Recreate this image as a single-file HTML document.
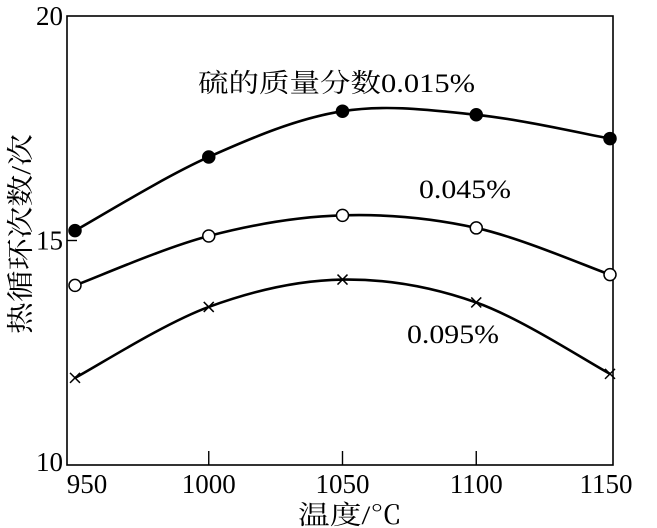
<!DOCTYPE html>
<html><head><meta charset="utf-8"><style>
html,body{margin:0;padding:0;background:#fff;}
svg{display:block;font-family:"Liberation Serif","Noto Serif CJK SC",serif;}
</style></head><body>
<svg id="chart" width="657" height="528" viewBox="0 0 657 528" xmlns="http://www.w3.org/2000/svg">
<rect x="67" y="16" width="546" height="449" fill="none" stroke="#000" stroke-width="1.6"/>
<g id="axes"></g>
<g id="series"></g>
<text x="198" y="92" font-size="26" textLength="277" lengthAdjust="spacingAndGlyphs">硫的质量分数0.015%</text>
<text x="419" y="198" font-size="26" textLength="92" lengthAdjust="spacingAndGlyphs">0.045%</text>
<text x="407" y="343" font-size="26" textLength="92" lengthAdjust="spacingAndGlyphs">0.095%</text>
<text x="350" y="524" font-size="26" text-anchor="middle" textLength="104" lengthAdjust="spacingAndGlyphs">温度/℃</text>
<text transform="translate(30,234) rotate(-90)" font-size="27" text-anchor="middle" textLength="200" lengthAdjust="spacingAndGlyphs">热循环次数/次</text>
</svg>
<script>
const temps=[950,1000,1050,1100,1150];
const s1=[15.22,16.86,17.88,17.8,17.27];
const s2=[14.0,15.1,15.56,15.28,14.24];
const s3=[11.94,13.52,14.13,13.62,12.03];
const xTicks=[950,1000,1050,1100,1150];
const yTicks=[10,15,20];
const NS="http://www.w3.org/2000/svg";
function X(v){return 75+(v-950)*2.675;}
function Y(v){return 465-(v-10)*44.9;}
function mk(tag,attrs,parent){const e=document.createElementNS(NS,tag);for(const k in attrs)e.setAttribute(k,attrs[k]);parent.appendChild(e);return e;}
const ax=document.getElementById('axes'),sg=document.getElementById('series');
xTicks.forEach(t=>{
  if(t>950&&t<1150){const l=mk('line',{x1:X(t),x2:X(t),y1:465,y2:451,stroke:'#000','stroke-width':1.4},ax);
  
  }
  const tx=mk('text',{x:X(t)+(t==950?12:t==1150?-4:0),y:493,'font-size':27,'text-anchor':'middle'},ax);
  tx.textContent=t;
  
  
});
yTicks.forEach(t=>{
  if(t==15){const l=mk('line',{x1:67,x2:77,y1:Y(t),y2:Y(t),stroke:'#000','stroke-width':1.4},ax);
  
  }
  const tx=mk('text',{x:63,y:Y(t)+(t==20?9:t==10?6:9),'font-size':27,'text-anchor':'end'},ax);
  tx.textContent=t;
  
  
});
function smooth(vals){
  const p=vals.map((v,i)=>[X(temps[i]),Y(v)]);
  let d='M'+p[0][0]+','+p[0][1];
  for(let i=0;i<p.length-1;i++){
    const p0=p[i-1]||p[i],p1=p[i],p2=p[i+1],p3=p[i+2]||p2;
    const c1=[p1[0]+(p2[0]-p0[0])/6,p1[1]+(p2[1]-p0[1])/6];
    const c2=[p2[0]-(p3[0]-p1[0])/6,p2[1]-(p3[1]-p1[1])/6];
    d+=' C'+c1+' '+c2+' '+p2;
  }
  return d;
}
[[s1,'filled','series-0015'],[s2,'open','series-0045'],[s3,'cross','series-0095']].forEach(([vals,type,name])=>{
  const path=mk('path',{d:smooth(vals),fill:'none',stroke:'#000','stroke-width':2.6},sg);
  
  
  vals.forEach((v,i)=>{
    const x=X(temps[i]),y=Y(v);let m;
    if(type=='cross'){
      m=mk('path',{d:`M${x-5},${y-5}L${x+5},${y+5}M${x+5},${y-5}L${x-5},${y+5}`,stroke:'#000','stroke-width':1.5,fill:'none'},sg);
    }else{
      m=mk('circle',{cx:x,cy:y,r:6,fill:type=='filled'?'#000':'#fff',stroke:'#000','stroke-width':1.5},sg);
    }
    
    
  });
});
</script>
</body></html>
